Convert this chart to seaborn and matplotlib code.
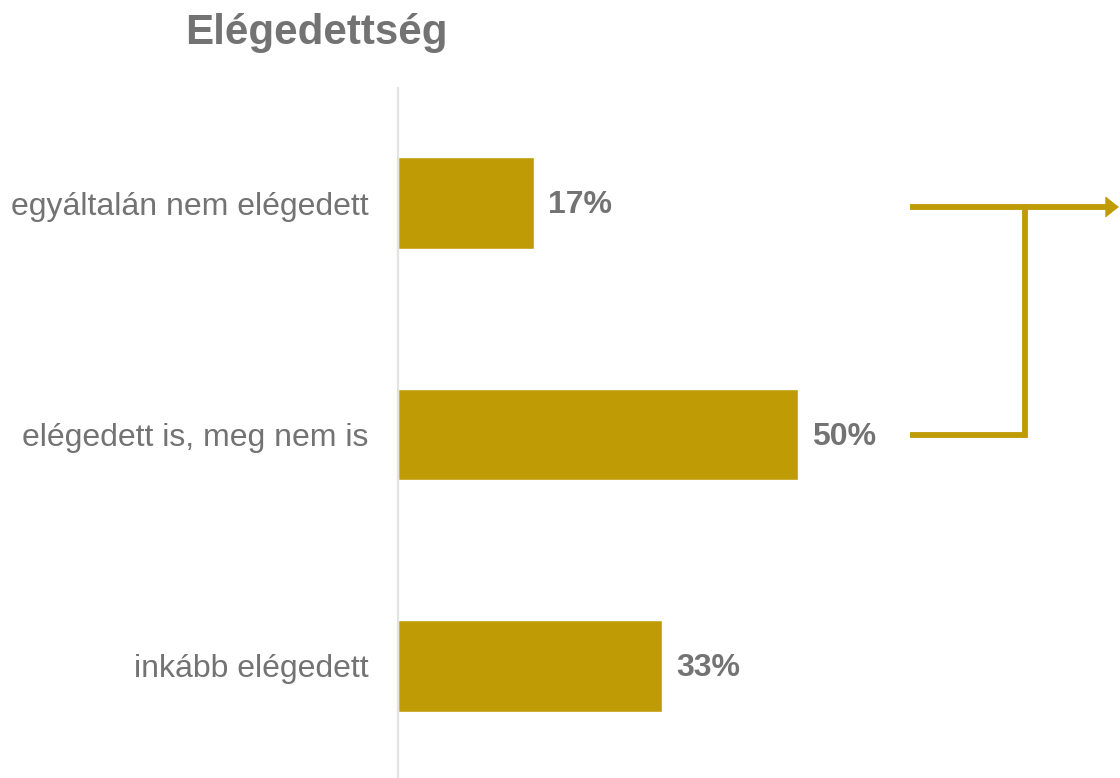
import matplotlib
matplotlib.use("Agg")
import matplotlib.pyplot as plt
import seaborn as sns
import pandas as pd

categories = ["egyáltalán nem elégedett", "elégedett is, meg nem is", "inkább elégedett"]
values = [17, 50, 33]
value_labels = ["17%", "50%", "33%"]
title = "Elégedettség"

BAR = "#BF9B06"
TEXT = "#737373"

sns.set_theme(style="white")
plt.rcParams["font.family"] = ["Liberation Sans", "DejaVu Sans"]

df = pd.DataFrame({"kategoria": categories, "arany": values})

W, H = 1120, 778
fig = plt.figure(figsize=(W / 100, H / 100), dpi=100)
ax = fig.add_axes([398 / W, 0.0, 1 - 398 / W, (H - 88) / H])

sns.barplot(data=df, y="kategoria", x="arany", orient="h", color=BAR,
            width=0.397, saturation=1, ax=ax)

ax.set_xlim(0, 90.25)
ax.set_ylim(2.484, -0.497)
ax.set_xlabel("")
ax.set_ylabel("")
ax.set_xticks([])
ax.tick_params(axis="y", length=0, pad=21, labelsize=23, labelcolor=TEXT)
for s in ["top", "right", "bottom"]:
    ax.spines[s].set_visible(False)
ax.spines["left"].set_color("#E3E3E3")
ax.spines["left"].set_linewidth(1.6)

for i, (v, lab) in enumerate(zip(values, value_labels)):
    ax.text(v + 1.8, i + 0.01, lab, ha="left", va="center",
            fontsize=23, fontweight="bold", color=TEXT)

# bracket joining the first two categories, with an arrow pointing right
lw = 4.2
y_top, y_mid = 0.017, 1.0
x_start, x_join, x_tip = 64, 78.4, 90.1
ax.plot([x_start, x_join], [y_mid, y_mid], color=BAR, lw=lw, solid_capstyle="butt", clip_on=False)
ax.plot([x_join, x_join], [y_mid, y_top], color=BAR, lw=lw, solid_capstyle="projecting", clip_on=False)
ax.plot([x_start, x_tip - 1.0], [y_top, y_top], color=BAR, lw=lw, solid_capstyle="butt", clip_on=False)
ax.annotate("", xy=(x_tip, y_top), xytext=(x_tip - 3.0, y_top),
            arrowprops=dict(arrowstyle="-|>,head_length=0.9,head_width=0.72",
                            mutation_scale=10, color=BAR, lw=0.5,
                            shrinkA=0, shrinkB=0, joinstyle="miter"),
            annotation_clip=False)

fig.text(316 / W, 1 - 33 / H, title, ha="center", va="center",
         fontsize=30.3, fontweight="bold", color=TEXT)

fig.savefig("out.png", dpi=100)
